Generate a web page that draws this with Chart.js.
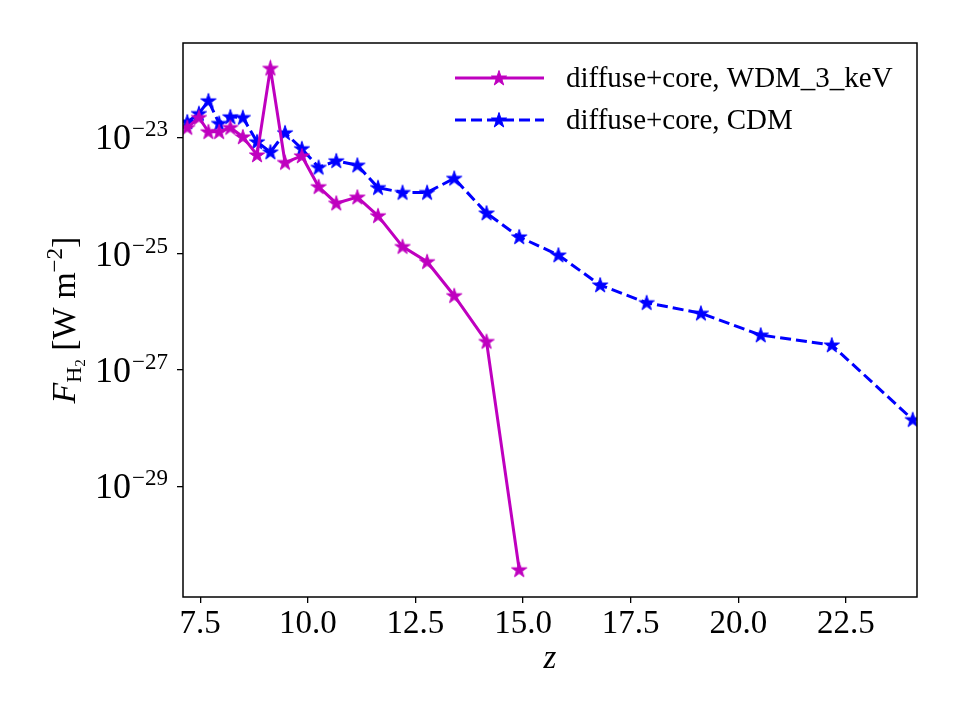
<!DOCTYPE html>
<html>
<head>
<meta charset="utf-8">
<script src="https://cdn.jsdelivr.net/npm/chart.js@4.4.0/dist/chart.umd.min.js"></script>
<style>
  html, body { margin: 0; padding: 0; background: #fff; }
  #wrap { width: 960px; height: 720px; }
</style>
</head>
<body>
<div id="wrap"><canvas id="fluxChart" width="960" height="720"></canvas></div>
<script>
'use strict';

// redshift of each snapshot (shared by both runs, WDM stops at z~14.9)
let redshifts = [7.2, 7.47, 7.69, 7.94, 8.2, 8.49, 8.82, 9.13, 9.47, 9.86, 10.25, 10.66, 11.15,
  11.63, 12.2, 12.77, 13.4, 14.15, 14.91, 15.82, 16.79, 17.87, 19.13, 20.52, 22.17, 24.05];

// F_H2 in W m^-2
let fluxWDM = [1.48e-23, 2.2e-23, 1.25e-23, 1.25e-23, 1.48e-23, 1.02e-23, 5.0e-24, 1.54e-22,
  3.7e-24, 4.8e-24, 1.42e-24, 7.4e-25, 9.4e-25, 4.5e-25, 1.33e-25, 7.3e-26, 1.9e-26, 3.1e-27, 3.7e-31];
let fluxCDM = [1.85e-23, 2.57e-23, 4.26e-23, 1.74e-23, 2.26e-23, 2.2e-23, 8.4e-24, 5.6e-24,
  1.2e-23, 6.4e-24, 3.05e-24, 3.96e-24, 3.33e-24, 1.37e-24, 1.13e-24, 1.13e-24, 1.98e-24,
  5.0e-25, 1.95e-25, 9.5e-26, 2.9e-26, 1.44e-26, 9.5e-27, 4.0e-27, 2.7e-27, 1.41e-28];

let seriesNames = ['diffuse+core, WDM_3_keV', 'diffuse+core, CDM'];
let xTicks = [7.5, 10, 12.5, 15, 17.5, 20, 22.5];
let yTicks = [1e-23, 1e-25, 1e-27, 1e-29];

const MAGENTA = '#bf00bf';
const BLUE = '#0000ff';
const SERIF = '"Liberation Serif", "DejaVu Serif", serif';

function makeStar(color) {
  let c = document.createElement('canvas');
  c.width = 20;
  c.height = 20;
  let g = c.getContext('2d');
  let rOut = 8, rIn = 8 * 0.382;
  g.beginPath();
  for (let i = 0; i < 10; i++) {
    let r = i % 2 === 0 ? rOut : rIn;
    let a = -Math.PI / 2 + i * Math.PI / 5;
    let px = 10 + r * Math.cos(a);
    let py = 10.5 + r * Math.sin(a);
    if (i === 0) g.moveTo(px, py); else g.lineTo(px, py);
  }
  g.closePath();
  g.fillStyle = color;
  g.fill();
  g.strokeStyle = color;
  g.lineWidth = 1;
  g.stroke();
  return c;
}

let starM = makeStar(MAGENTA);
let starB = makeStar(BLUE);

function toPoints(xs, ys) {
  let pts = [];
  for (let i = 0; i < ys.length; i++) {
    pts.push({ x: xs[i], y: ys[i] });
  }
  return pts;
}

function expText(v) {
  let e = Math.round(Math.log10(v));
  return String(e).replace('-', '\u2212');
}

// text that chart.js can't do by itself: sup/sub labels, legend, frame
let decorPlugin = {
  id: 'decor',
  afterDatasetsDraw(chart) {
    let ctx = chart.ctx;
    let area = chart.chartArea;
    let yScale = chart.scales.y;

    ctx.save();
    // frame
    ctx.strokeStyle = '#000';
    ctx.lineWidth = 1.5;
    ctx.strokeRect(area.left, area.top, area.right - area.left, area.bottom - area.top);

    // y tick labels 10^n
    ctx.fillStyle = '#000';
    ctx.textBaseline = 'alphabetic';
    for (let v of yTicks) {
      let py = yScale.getPixelForValue(v);
      let sup = expText(v);
      ctx.font = '23px ' + SERIF;
      let wSup = ctx.measureText(sup).width;
      ctx.font = '36px ' + SERIF;
      let wTen = ctx.measureText('10').width;
      let right = area.left - 15;
      ctx.textAlign = 'left';
      ctx.fillText('10', right - wSup - wTen - 1, py + 12);
      ctx.font = '23px ' + SERIF;
      ctx.fillText(sup, right - wSup, py - 1);
    }

    // x title
    ctx.font = 'italic 33px ' + SERIF;
    ctx.textAlign = 'center';
    ctx.fillText('z', (area.left + area.right) / 2, 668);

    // y title, rotated
    let parts = [
      { t: 'F', f: 'italic 34px ', dy: 0 },
      { t: 'H', f: '22px ', dy: 6 },
      { t: '2', f: '15px ', dy: 10 },
      { t: ' [W m', f: '34px ', dy: 0 },
      { t: '\u22122', f: '23px ', dy: -13 },
      { t: ']', f: '34px ', dy: 0 }
    ];
    let total = 0;
    for (let p of parts) {
      ctx.font = p.f + SERIF;
      p.w = ctx.measureText(p.t).width;
      total += p.w;
    }
    ctx.translate(75, (area.top + area.bottom) / 2);
    ctx.rotate(-Math.PI / 2);
    ctx.textAlign = 'left';
    let cx = -total / 2;
    for (let p of parts) {
      ctx.font = p.f + SERIF;
      ctx.fillText(p.t, cx, p.dy);
      cx += p.w;
    }
    ctx.restore();

    // legend
    ctx.save();
    let rows = [
      { name: seriesNames[0], color: MAGENTA, dash: [], star: starM, y: 78 },
      { name: seriesNames[1], color: BLUE, dash: [11, 5], star: starB, y: 120 }
    ];
    for (let r of rows) {
      ctx.strokeStyle = r.color;
      ctx.lineWidth = 3;
      ctx.setLineDash(r.dash);
      ctx.beginPath();
      ctx.moveTo(455, r.y);
      ctx.lineTo(544, r.y);
      ctx.stroke();
      ctx.setLineDash([]);
      ctx.drawImage(r.star, 499 - 10, r.y - 10);
      ctx.fillStyle = '#000';
      ctx.font = '29px ' + SERIF;
      ctx.textAlign = 'left';
      ctx.textBaseline = 'middle';
      ctx.fillText(r.name, 566, r.y + 1);
    }
    ctx.restore();
  }
};

const ctx = document.getElementById('fluxChart');

new Chart(ctx, {
  type: 'line',
  data: {
    datasets: [
      {
        label: seriesNames[0],
        data: toPoints(redshifts, fluxWDM),
        borderColor: MAGENTA,
        backgroundColor: MAGENTA,
        borderWidth: 3,
        pointStyle: starM,
        pointRadius: 8,
        tension: 0,
        fill: false,
      },
      {
        label: seriesNames[1],
        data: toPoints(redshifts, fluxCDM),
        borderColor: BLUE,
        backgroundColor: BLUE,
        borderWidth: 3,
        borderDash: [11, 5],
        pointStyle: starB,
        pointRadius: 8,
        tension: 0,
        fill: false,
      },
    ],
  },
  options: {
    responsive: false,
    animation: false,
    devicePixelRatio: 1,
    layout: { padding: { left: 0, right: 43, top: 43, bottom: 0 } },
    plugins: {
      legend: { display: false },
      tooltip: { enabled: false },
    },
    scales: {
      x: {
        type: 'linear',
        min: 7.1,
        max: 24.15,
        border: { display: false },
        grid: { drawOnChartArea: false, drawTicks: true, tickLength: 6, color: '#000', lineWidth: 1.3 },
        ticks: {
          color: '#000',
          font: { family: SERIF, size: 33 },
          padding: 2,
          maxRotation: 0,
          autoSkip: false,
          callback: (v) => v.toFixed(1),
        },
        afterBuildTicks: (scale) => {
          scale.ticks = xTicks.map((v) => ({ value: v }));
        },
        afterFit: (scale) => {
          scale.height = 123;
        },
      },
      y: {
        type: 'logarithmic',
        min: 1.26e-31,
        max: 4.2e-22,
        border: { display: false },
        grid: { drawOnChartArea: false, drawTicks: true, tickLength: 6, color: '#000', lineWidth: 1.3 },
        ticks: { display: false },
        afterBuildTicks: (scale) => {
          scale.ticks = yTicks.map((v) => ({ value: v }));
        },
        afterFit: (scale) => {
          scale.width = 183;
        },
      },
    },
  },
  plugins: [decorPlugin],
});
</script>
</body>
</html>
